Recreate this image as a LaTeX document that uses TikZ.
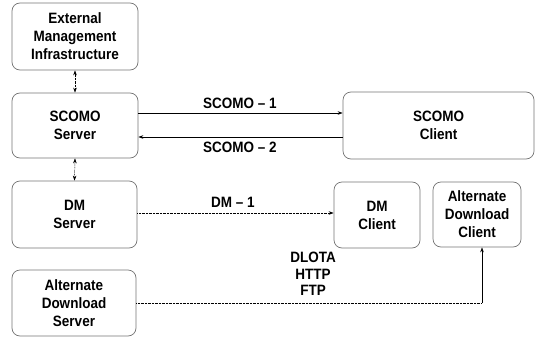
\documentclass[tikz,border=0pt]{standalone}
\usepackage{fontspec}
\setmainfont{Liberation Sans}[FakeStretch=0.9]
\usetikzlibrary{arrows.meta,calc}
\begin{document}
\begin{tikzpicture}[x=1pt,y=-1pt,
  blk/.style={draw=black!55,line width=0.7pt,rounded corners=8pt,align=center,
    font=\fontsize{15}{18}\selectfont\bfseries,inner sep=0pt},
  lbl/.style={font=\fontsize{15}{16.5}\selectfont\bfseries,align=center,inner sep=0pt},
  fine/.style={dash pattern=on 0.7pt off 0.7pt},
  link/.style={line width=0.5pt,-{Stealth[length=5pt,width=3.5pt]}},
  both/.style={line width=0.5pt,fine,{Stealth[length=5pt,width=3.5pt]}-{Stealth[length=5pt,width=3.5pt]}},
  dotlink/.style={line width=0.5pt,fine,-{Stealth[length=5pt,width=3.5pt]}}]
\useasboundingbox (0,0) rectangle (537,337);
% boxes
\node[blk,minimum width=126pt,minimum height=67pt] (emi) at (75,36.5) {External\\Management\\Infrastructure};
\node[blk,minimum width=126pt,minimum height=65pt] (scs) at (75,125.5) {SCOMO\\Server};
\node[blk,minimum width=191pt,minimum height=67pt] (scc) at (438.5,125.5) {SCOMO\\Client};
\node[blk,minimum width=125pt,minimum height=67pt] (dms) at (74.5,214.5) {DM\\Server};
\node[blk,minimum width=86pt,minimum height=66pt] (dmc) at (377,215) {DM\\Client};
\node[blk,minimum width=88pt,minimum height=65pt] (adc) at (477,214.5) {Alternate\\Download\\Client};
\node[blk,minimum width=124pt,minimum height=66pt] (ads) at (74,303) {Alternate\\Download\\Server};
% vertical links between the server-side boxes
\draw[both] (emi.south) -- (scs.north);
\draw[both] (scs.south) -- (dms.north);
% SCOMO exchange
\coordinate (s1) at ([yshift=12.5pt]scs.east);
\coordinate (s2) at ([yshift=-11.5pt]scs.east);
\draw[link] (s1) -- (s1 -| scc.west);
\draw[link] (s2 -| scc.west) -- (s2);
\node[lbl] (l1) at (240,103) {SCOMO -- 1};
\node[lbl] (l2) at (240,147) {SCOMO -- 2};
% DM exchange
\coordinate (d1) at ([yshift=1.5pt]dms.east);
\draw[dotlink] (d1) -- (d1 -| dmc.west);
\node[lbl] (l3) at (233,202) {DM -- 1};
% alternate download path
\coordinate (a1) at (ads.east);
\coordinate (a2) at (a1 -| 482,0);
\draw[line width=0.5pt,fine] (a1) -- (a2);
\draw[link] (a2) -- (a2 |- adc.south);
\node[lbl] (l4) at (313,274) {DLOTA\\HTTP\\FTP};
\end{tikzpicture}
\end{document}
